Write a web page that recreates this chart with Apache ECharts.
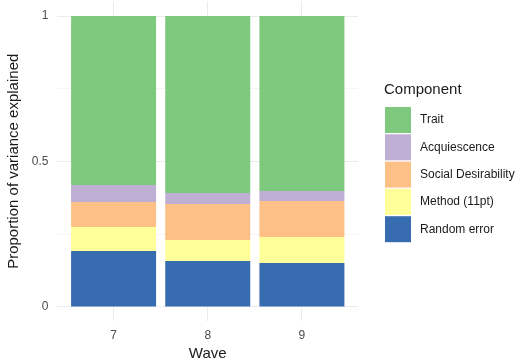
<!DOCTYPE html>
<html>
<head>
<meta charset="utf-8">
<script src="https://cdn.jsdelivr.net/npm/echarts@6/dist/echarts.min.js"></script>
<style>
  html, body { margin: 0; padding: 0; background: #fff; }
  #chart { width: 532px; height: 362px; }
</style>
</head>
<body>
<div id="chart"></div>
<script>
// waves on the x axis
var waves = ["7", "8", "9"];

// variance components per wave
var randomError = [0.191, 0.157, 0.150];
var method11pt = [0.083, 0.072, 0.089];
var socialDesirability = [0.086, 0.124, 0.124];
var acquiescence = [0.058, 0.038, 0.035];
var trait = [0.582, 0.609, 0.602];

var yMajor = [0, 0.5, 1];
var yMinor = [0.25, 0.75];

var font = "Liberation Sans, Arial, sans-serif";
var chart = echarts.init(document.getElementById("chart"));

function barSeries(name, arr, color) {
  return {
    name: name,
    type: "bar",
    stack: "total",
    xAxisIndex: 1,
    yAxisIndex: 1,
    barWidth: 85,
    itemStyle: { color: color },
    data: arr,
    z: 3
  };
}

// grid lines for the whole panel (ggplot style, panel expanded)
var gridLines = [];
waves.forEach(function (w, i) {
  gridLines.push({ xAxis: i + 1 });
});
yMajor.forEach(function (v) {
  gridLines.push({ yAxis: v });
});
yMinor.forEach(function (v) {
  gridLines.push({ yAxis: v, lineStyle: { color: "#f5f5f5" } });
});

var option = {
  animation: false,
  textStyle: { fontFamily: font },
  grid: [
    // full panel incl. expansion
    { left: 57, right: 174, top: 1.5, bottom: 41, outerBoundsMode: "none", containLabel: false },
    // bars
    { left: 66.5, right: 183, top: 16, bottom: 55.5, outerBoundsMode: "none", containLabel: false }
  ],
  xAxis: [
    {
      gridIndex: 0, type: "value", min: 0.4, max: 3.6,
      axisLine: { show: false }, axisTick: { show: false },
      axisLabel: { show: false }, splitLine: { show: false }
    },
    {
      gridIndex: 1, type: "category", data: waves,
      axisLine: { show: false }, axisTick: { show: false },
      splitLine: { show: false },
      axisLabel: { margin: 23, color: "#4d4d4d", fontSize: 12, fontFamily: font },
      name: "Wave", nameLocation: "middle", nameGap: 40,
      nameTextStyle: { fontSize: 15, color: "#1a1a1a", fontFamily: font }
    }
  ],
  yAxis: [
    {
      gridIndex: 0, type: "value", min: -0.05, max: 1.05,
      axisLine: { show: false }, axisTick: { show: false },
      axisLabel: { show: false }, splitLine: { show: false }
    },
    {
      gridIndex: 1, type: "value", min: 0, max: 1, interval: 0.5,
      axisLine: { show: false }, axisTick: { show: false },
      splitLine: { show: false },
      axisLabel: { margin: 18, color: "#4d4d4d", fontSize: 12, fontFamily: font },
      name: "Proportion of variance explained",
      nameLocation: "middle", nameGap: 41,
      nameTextStyle: { fontSize: 15, color: "#1a1a1a", fontFamily: font }
    }
  ],
  legend: {
    orient: "vertical",
    left: 385, top: 107, padding: 0,
    itemWidth: 26, itemHeight: 26, itemGap: 1.3,
    icon: "rect",
    selectedMode: false,
    textStyle: { fontSize: 12, color: "#1a1a1a", fontFamily: font, padding: [0, 0, 0, 4] },
    data: ["Trait", "Acquiescence", "Social Desirability", "Method (11pt)", "Random error"]
  },
  graphic: [
    {
      type: "text", left: 384, top: 82,
      style: { text: "Component", fontSize: 15, fill: "#1a1a1a", fontFamily: font }
    }
  ],
  series: [
    {
      type: "line", xAxisIndex: 0, yAxisIndex: 0, data: [], z: 0,
      silent: true,
      markLine: {
        silent: true, symbol: "none", z: 0,
        label: { show: false },
        emphasis: { disabled: true },
        lineStyle: { color: "#ebebeb", width: 1, type: "solid" },
        data: gridLines
      }
    },
    barSeries("Random error", randomError, "#386cb0"),
    barSeries("Method (11pt)", method11pt, "#ffff99"),
    barSeries("Social Desirability", socialDesirability, "#fdc086"),
    barSeries("Acquiescence", acquiescence, "#beaed4"),
    barSeries("Trait", trait, "#7fc97f")
  ]
};

chart.setOption(option);
</script>
</body>
</html>
